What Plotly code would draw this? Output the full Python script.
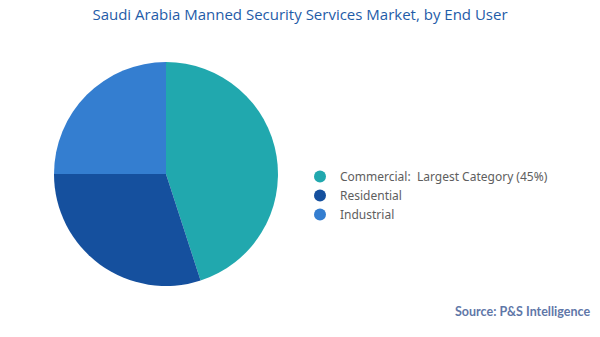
import plotly.graph_objects as go

categories = ["Commercial", "Residential", "Industrial"]
legend_labels = ["Commercial:  Largest Category (45%)", "Residential", "Industrial"]
shares = [45, 30, 25]
colors = ["#21A8AE", "#15509E", "#347ED0"]

fig = go.Figure()
fig.add_trace(go.Pie(
    labels=categories, values=shares, sort=False, direction="clockwise",
    rotation=0, marker=dict(colors=colors, line=dict(width=0)),
    textinfo="none", hoverinfo="label+percent", showlegend=False,
    domain=dict(x=[0.09, 0.4633], y=[0.151, 0.816]),
))
for lab, col in zip(legend_labels, colors):
    fig.add_trace(go.Scatter(
        x=[None], y=[None], mode="markers", name=lab,
        marker=dict(symbol="circle", size=10, color=col),
    ))

fig.update_layout(
    width=600, height=337,
    margin=dict(l=0, r=0, t=0, b=0),
    paper_bgcolor="white", plot_bgcolor="white",
    xaxis=dict(visible=False), yaxis=dict(visible=False),
    title=dict(text="Saudi Arabia Manned Security Services Market, by End User",
               x=0.5, xanchor="center", y=0.957, yanchor="middle",
               font=dict(family="Open Sans", size=15, color="#1F5CA8")),
    legend=dict(x=0.5, xanchor="left", y=0.42, yanchor="middle",
                font=dict(family="Noto Sans", size=12, color="#5E5E5E"),
                tracegroupgap=0, itemsizing="constant",
                bgcolor="rgba(0,0,0,0)"),
    annotations=[dict(text="<b>Source: P&S Intelligence</b>", x=0.986, xanchor="right",
                      y=0.077, yanchor="middle", xref="paper", yref="paper",
                      showarrow=False,
                      font=dict(family="Lato", size=12.5, color="#5F77A8"))],
)
fig.write_html("out.html")
